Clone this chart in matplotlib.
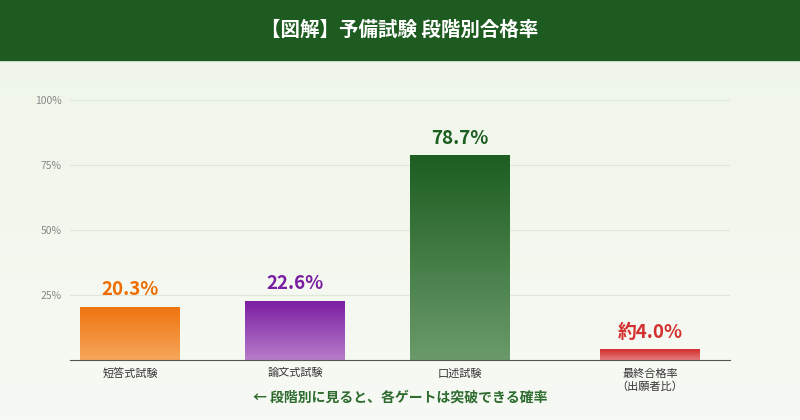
import numpy as np
import matplotlib.pyplot as plt
from matplotlib.colors import LinearSegmentedColormap
from matplotlib.patches import Rectangle

plt.rcParams['font.family'] = ['Noto Sans CJK JP', 'DejaVu Sans']

# data
categories = ['短答式試験', '論文式試験', '口述試験', '最終合格率\n（出願者比）']
rates = [20.3, 22.6, 78.7, 4.0]
labels = ['20.3%', '22.6%', '78.7%', '約4.0%']
top_colors = ['#ef7410', '#7b1fa2', '#1d5e21', '#d32f2f']
bottom_colors = ['#f6a65a', '#b77ccb', '#6a9a6a', '#e57a7a']
text_colors = ['#ef6c00', '#7b1fa2', '#1b5e20', '#d32f2f']
yticks = [25, 50, 75, 100]

# layout (pixel-based x positions)
xpos = [130, 295, 460, 650]
bar_w = 100

fig = plt.figure(figsize=(8, 4.2), dpi=100)

# background gradient
bg = fig.add_axes([0, 0, 1, 1])
bg.imshow(np.linspace(0, 1, 100).reshape(-1, 1),
          cmap=LinearSegmentedColormap.from_list('bg', ['#eef5e8', '#f7faf4']),
          aspect='auto', extent=[0, 1, 0, 1])
bg.add_patch(Rectangle((0, 1 - 60 / 420), 1, 60 / 420, color='#1e5b20'))
bg.set_xlim(0, 1)
bg.set_ylim(0, 1)
bg.axis('off')
bg.text(0.5, 1 - 30 / 420, '【図解】予備試験 段階別合格率', ha='center', va='center',
        color='white', fontsize=14, fontweight='bold')
bg.text(0.5, 1 - 398 / 420, '← 段階別に見ると、各ゲートは突破できる確率', ha='center',
        va='center', color='#2e6b2e', fontsize=10, fontweight='bold')

ax = fig.add_axes([70 / 800, 60 / 420, 660 / 800, 260 / 420])
ax.patch.set_alpha(0)
ax.set_xlim(70, 730)
ax.set_ylim(0, 100)
for y in yticks:
    ax.axhline(y, color='#dfe6da', lw=0.8, zorder=0)

for x, v, lab, tc, bc, col in zip(xpos, rates, labels, top_colors, bottom_colors, text_colors):
    cmap = LinearSegmentedColormap.from_list('b', [bc, tc])
    ax.imshow(np.linspace(0, 1, 100).reshape(-1, 1), cmap=cmap, origin='lower',
              aspect='auto', extent=[x - bar_w / 2, x + bar_w / 2, 0, v], zorder=2)
    ax.text(x, v + 3, lab, ha='center', va='bottom', color=col,
            fontsize=13.5, fontweight='bold')

ax.set_xlim(70, 730)
ax.set_ylim(0, 100)
ax.set_xticks(xpos)
ax.set_xticklabels(categories, fontsize=8, color='#333333', linespacing=1.3)
ax.set_yticks(yticks)
ax.set_yticklabels([f'{t}%' for t in yticks], fontsize=7.5, color='#888888')
ax.tick_params(length=0, pad=6)
for s in ['top', 'right', 'left']:
    ax.spines[s].set_visible(False)
ax.spines['bottom'].set_color('#555555')

fig.savefig('out.png', dpi=100)
